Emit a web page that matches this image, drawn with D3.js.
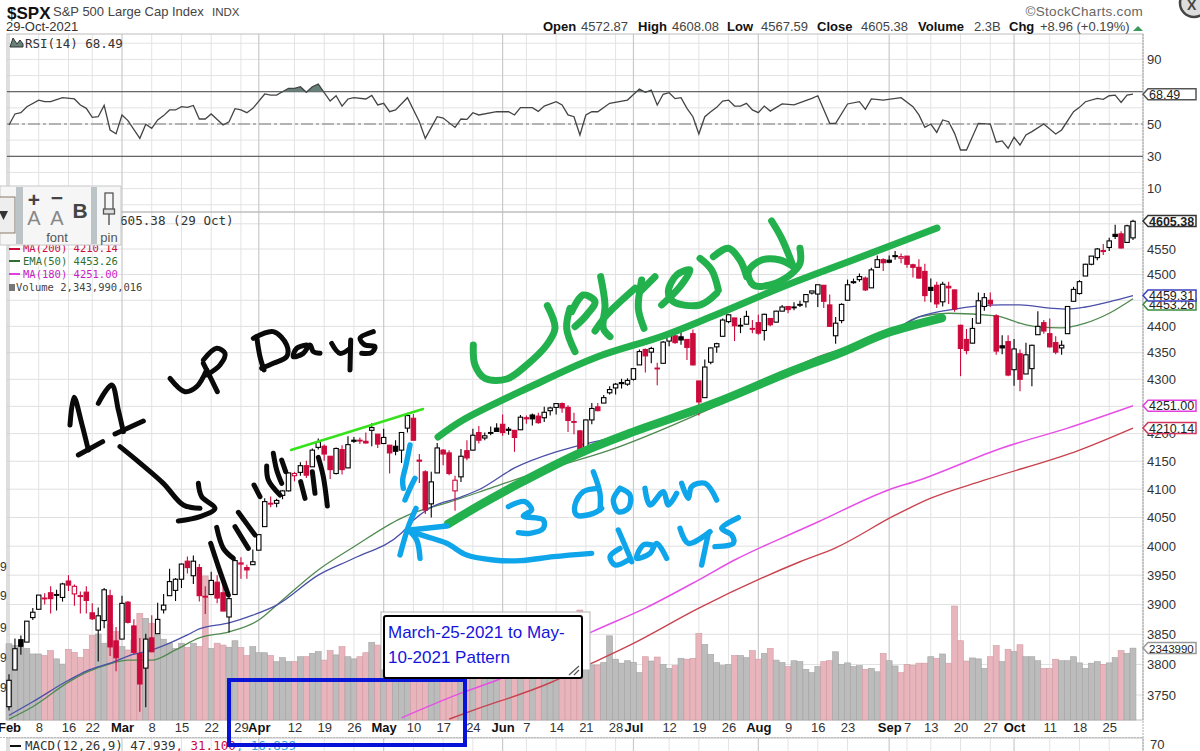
<!DOCTYPE html>
<html>
<head>
<title>$SPX</title>
<script src="https://cdn.jsdelivr.net/npm/d3@7"></script>
<style>
html, body { margin: 0; padding: 0; background: #fff; overflow: hidden; }
svg { display: block; }
text { font-family: "Liberation Sans", Arial, sans-serif; }
.mono { font-family: "DejaVu Sans Mono", monospace; }
</style>
</head>
<body>
<svg id="chart" width="1200" height="751"></svg>
<script>
// daily candles, 1 Feb to 29 Oct 2021, one row per month
var opens = [
  3731,3791,3841,3837,3878,3892,3910,3920,3917,3912,3940,3918,3915,3921,3886,3857,3873,3915,3839,
  3842,3904,3864,3818,3794,3844,3851,3891,3915,3924,3943,3974,3949,3963,3914,3917,3938,3920,3879,3917,3969,3963,3968,
  3993,4034,4075,4075,4089,4097,4124,4130,4142,4140,4175,4177,4159,4128,4171,4138,4186,4188,4186,4206,4199,
  4182,4179,4177,4170,4210,4228,4150,4131,4074,4129,4170,4165,4097,4122,4169,4170,4202,4192,4202,4210,
  4217,4206,4206,4207,4229,4234,4232,4229,4242,4248,4255,4248,4221,4205,4173,4225,4249,4256,4275,4284,4294,4291,
  4300,4327,4356,4351,4321,4330,4372,4382,4380,4375,4386,4297,4266,4332,4361,4381,4409,4416,4402,4404,4396,
  4407,4392,4415,4408,4429,4438,4436,4442,4447,4464,4462,4479,4441,4382,4411,4450,4484,4490,4493,4474,4514,4529,
  4528,4535,4532,4536,4519,4514,4506,4475,4479,4447,4477,4470,4402,4375,4368,4406,4438,4450,4420,4363,4371,
  4318,4348,4310,4320,4384,4407,4386,4369,4359,4386,4448,4463,4497,4520,4533,4547,4553,4579,4580,4563,4572
];
var highs = [
  3784,3843,3848,3872,3894,3915,3919,3931,3925,3937,3950,3934,3922,3931,3902,3895,3928,3925,3862,
  3915,3906,3875,3844,3851,3882,3903,3918,3961,3945,3970,3982,3984,3969,3931,3956,3950,3942,3919,3978,3981,3968,3994,
  4020,4084,4087,4083,4098,4130,4131,4148,4151,4173,4191,4180,4159,4175,4179,4195,4194,4193,4202,4219,4199,
  4209,4179,4188,4202,4238,4236,4163,4134,4131,4183,4172,4170,4124,4172,4188,4209,4214,4202,4213,4219,
  4235,4212,4206,4234,4233,4237,4238,4249,4249,4255,4257,4252,4238,4206,4226,4256,4256,4271,4287,4293,4301,4302,
  4321,4356,4358,4361,4331,4372,4387,4393,4394,4375,4394,4297,4337,4360,4369,4415,4423,4416,4416,4430,4412,
  4422,4424,4416,4430,4441,4438,4446,4449,4461,4468,4480,4479,4461,4418,4444,4490,4492,4502,4496,4513,4537,4532,
  4537,4546,4541,4536,4521,4530,4521,4492,4486,4486,4486,4471,4403,4395,4416,4465,4464,4465,4423,4383,4383,
  4376,4356,4369,4365,4429,4412,4415,4381,4373,4439,4476,4489,4521,4536,4552,4560,4572,4598,4585,4598,4608
];
var lows = [
  3725,3791,3816,3837,3874,3892,3900,3885,3890,3905,3923,3898,3885,3885,3874,3805,3860,3814,3789,
  3842,3868,3817,3723,3730,3820,3851,3885,3915,3906,3928,3953,3935,3905,3884,3917,3902,3889,3853,3917,3944,3944,3968,
  3993,4034,4068,4068,4082,4096,4114,4124,4120,4140,4171,4151,4118,4126,4126,4138,4183,4181,4182,4177,4174,
  4182,4128,4161,4147,4202,4188,4111,4056,4050,4129,4143,4125,4062,4113,4152,4170,4182,4188,4197,4203,
  4196,4198,4167,4207,4218,4215,4218,4221,4233,4235,4238,4203,4199,4165,4173,4217,4241,4256,4272,4272,4283,4288,
  4298,4327,4313,4330,4289,4330,4362,4367,4365,4336,4326,4233,4266,4328,4350,4381,4406,4372,4387,4404,4387,
  4384,4373,4400,4408,4430,4425,4431,4437,4436,4461,4437,4435,4399,4367,4406,4450,4482,4486,4468,4474,4514,4507,
  4522,4529,4522,4513,4494,4492,4447,4446,4435,4438,4443,4428,4306,4347,4368,4406,4430,4437,4346,4347,4306,
  4288,4278,4310,4287,4384,4386,4360,4347,4346,4386,4448,4461,4497,4518,4528,4538,4546,4570,4551,4563,4568
];
var closes = [
  3774,3826,3830,3872,3887,3916,3911,3910,3916,3935,3933,3931,3914,3907,3876,3881,3925,3829,3811,
  3902,3870,3820,3768,3842,3821,3875,3899,3939,3943,3969,3963,3974,3915,3913,3941,3911,3889,3910,3975,3971,3959,3973,
  4020,4078,4074,4080,4097,4129,4128,4142,4125,4170,4185,4163,4135,4173,4135,4180,4188,4187,4183,4211,4181,
  4193,4165,4168,4202,4233,4188,4152,4063,4113,4174,4163,4128,4116,4159,4156,4197,4188,4196,4201,4204,
  4202,4208,4193,4230,4227,4227,4220,4239,4247,4255,4247,4224,4222,4166,4225,4246,4242,4266,4281,4291,4292,4298,
  4320,4352,4344,4358,4321,4370,4385,4369,4374,4360,4327,4258,4323,4359,4367,4412,4422,4401,4401,4419,4395,
  4387,4423,4403,4429,4437,4432,4437,4442,4461,4468,4480,4448,4400,4406,4442,4480,4486,4496,4470,4509,4529,4523,
  4524,4537,4535,4520,4514,4493,4459,4469,4443,4481,4474,4433,4358,4354,4396,4449,4455,4443,4353,4359,4308,
  4357,4300,4346,4364,4400,4391,4361,4351,4364,4438,4471,4486,4520,4536,4550,4545,4566,4575,4552,4596,4605
];
// volume in billions. tops of the bars under the note are guesses
var volumes = [
  2.48,2.42,2.36,2.33,2.15,2.15,2.10,2.26,1.99,1.82,2.30,2.20,2.03,2.30,2.75,2.80,2.50,3.12,2.88,
  2.39,2.28,2.61,3.47,3.31,3.15,2.77,2.63,2.50,2.33,2.50,2.36,2.50,2.39,4.69,2.33,2.50,2.44,2.37,2.58,2.36,2.10,2.39,
  2.19,2.19,2.10,1.90,2.03,1.90,1.90,2.06,2.06,2.17,2.23,1.95,2.26,2.12,2.39,2.06,1.99,2.06,2.19,2.53,2.44,
  2.30,2.45,2.40,2.60,2.50,2.55,2.85,2.90,2.95,2.80,2.50,2.40,2.60,2.35,2.20,2.00,2.10,2.20,2.30,2.25,2.10,2.05,
  2.00,2.00,1.95,1.90,1.85,2.05,2.00,2.10,2.20,2.40,2.50,3.58,1.85,1.79,1.79,1.87,2.74,1.98,1.85,1.93,1.88,1.54,
  2.06,1.92,2.05,1.81,1.68,1.77,2.01,1.98,2.01,2.82,2.46,2.14,1.87,1.77,1.81,2.10,2.10,2.03,2.26,1.98,2.17,2.33,
  1.95,1.87,1.74,1.93,1.90,1.65,1.54,1.74,1.90,1.93,2.22,1.81,1.86,1.74,1.77,1.65,1.68,1.57,2.17,1.93,1.76,1.54,
  1.81,1.78,1.85,1.85,2.06,2.01,2.15,1.85,3.71,2.58,1.92,2.02,1.99,1.68,2.06,2.42,1.90,2.30,2.23,2.45,2.06,2.06,
  1.93,1.68,1.68,1.98,1.93,1.93,2.06,1.86,1.68,1.85,1.90,1.81,1.86,2.03,2.26,2.17,2.34
];

// moving averages, read at a few days along each curve
var ma50Days = [0,4,10,13,17,21,24,30,32,37,41,45,52,58,66,68,71,76,79,85,92,96,102,120,131,140,148,153,159,167,170,175,178,181,185,189];
var ma50Vals = [3717,3739,3774,3789,3802,3817,3824,3849,3859,3869,3882,3899,3950,3979,4023,4045,4068,4086,4099,4138,4167,4179,4194,4256,4312,4351,4387,4418,4433,4441,4441,4435,4433,4437,4447,4459];
var ema50Days = [0,4,10,13,17,20,24,28,32,37,42,45,52,58,66,68,74,81,89,101,120,136,148,153,158,166,170,173,177,181,185,189];
var ema50Vals = [3711,3731,3771,3787,3801,3807,3807,3824,3844,3854,3874,3899,3959,3999,4049,4058,4077,4102,4131,4170,4256,4342,4387,4418,4425,4420,4406,4399,4397,4406,4425,4453];
var ma180Days = [66,76,82,98,107,116,122,133,136,148,153,167,178,189];
var ma180Vals = [3713,3753,3774,3854,3894,3942,3976,4028,4042,4099,4116,4174,4210,4251];
var ma200Days = [74,78,91,98,105,116,133,139,149,155,164,180,189];
var ma200Vals = [3711,3725,3770,3802,3835,3894,3973,3997,4054,4084,4116,4170,4210];

var rsiDays = [0,1,2,3,5,6,7,9,11,12,13,14,15,16,17,18,19,20,22,23,24,25,26,27,28,29,30,31,32,33,34,36,37,38,39,40,41,43,44,45,47,48,49,50,51,52,54,55,56,57,58,60,61,62,63,64,65,67,69,70,72,73,75,76,77,78,79,82,84,85,86,88,89,90,92,93,94,95,96,97,98,99,101,104,106,107,108,109,110,111,112,113,114,115,116,117,118,119,120,121,122,123,124,125,126,127,128,130,132,135,136,138,139,141,143,144,145,147,150,152,153,154,155,156,157,158,159,160,161,163,165,166,167,168,169,170,171,172,174,176,177,179,180,181,183,184,185,186,187,188,189];
var rsiVals = [49.4,56.2,57,60.7,64.8,63.8,63.8,66.3,65.5,61.8,59.7,54.1,54.5,61.5,46.3,43.9,55.6,52.1,41.1,49.8,47.3,52.5,55.2,58.7,58.7,60.7,60.3,61.5,53.1,53.1,56.2,49.4,51.4,59.5,58.7,57,59.7,68.6,67.9,67.9,72.1,72.1,73.1,69.6,73.1,74.7,64.2,67.5,61.1,65.5,66.3,65.5,67.7,61.8,62.8,57.6,58.7,66.3,51.4,41.1,54.5,53.7,47.9,53.1,52.9,57,55.6,57.6,57.6,55.6,60.1,60.1,57.8,61.1,63.8,61.8,55.6,54.5,43.2,55.6,57.6,57.6,62.8,64.8,71.6,69.6,71,61.8,68.4,69.4,65.7,66.3,59.7,54.5,43.8,54.5,57.6,60.3,64.2,64.8,61.1,61.1,62.8,58.7,57,61.1,58,62.4,61.8,65.9,67.5,50.4,50.4,62.4,63.8,59.1,65.5,64.8,66.3,60.7,55.6,47.9,50,44.8,52.5,51.4,44.2,33.9,33.9,50.4,50,38.7,39.5,35,41.8,37,43.2,45.3,50,43.8,46.3,57.6,60.3,63.8,65.9,65.3,67.5,67.9,63.4,67.9,68.49];

var tickDays = [0,5,10,14,19,24,29,34,39,42,48,53,58,63,68,73,78,83,87,92,97,102,105,111,116,121,126,131,136,141,148,151,155,160,165,169,175,180,185];
var tickLabels = ['Feb','8','16','22','Mar','8','15','22','29','Apr','12','19','26','May','10','17','24','Jun','7','14','21','28','Jul','12','19','26','Aug','9','16','23','Sep','7','13','20','27','Oct','11','18','25'];
var months = ['Feb','Mar','Apr','May','Jun','Jul','Aug','Sep','Oct'];
var priceGrid = d3.range(3750, 4601, 50);
// 4600, 4450 and 4250 sit behind the value tags
var priceTicks = priceGrid.filter(function(p){ return [4600,4450,4250].indexOf(p) < 0; });
var rsiTicks = [90,50,30,10];

var RED = '#cc0a3c', PANEL_LEFT = 7, PANEL_RIGHT = 1143;

var svg = d3.select('#chart');
var x = d3.scaleLinear().domain([0,189]).range([9,1133]);
var y = d3.scaleLog().domain([3750,4550]).range([695,249]);
var yVol = d3.scaleLinear().domain([0,2.344]).range([720,648]);
var yRsi = d3.scaleLinear().domain([50,70]).range([124,91.7]);

svg.append('defs').append('clipPath').attr('id','priceClip').append('rect')
  .attr('x',PANEL_LEFT).attr('y',212).attr('width',PANEL_RIGHT-PANEL_LEFT).attr('height',508);
svg.select('defs').append('clipPath').attr('id','overClip').append('rect')
  .attr('x',PANEL_LEFT).attr('y',34).attr('width',PANEL_RIGHT-PANEL_LEFT).attr('height',yRsi(70)-34);

// grid
var grid = svg.append('g').attr('fill','none');
var gridH = function(vals, scale, color) {
  grid.selectAll(null).data(vals).enter().append('line')
    .attr('x1',PANEL_LEFT).attr('x2',PANEL_RIGHT)
    .attr('y1',function(d){ return scale(d); }).attr('y2',function(d){ return scale(d); })
    .attr('stroke',color);
};
gridH(d3.range(0,101,10), yRsi, '#e3e3e3');
gridH(priceGrid, y, '#e0e0e0');
var gridV = function(y1, y2) {
  grid.selectAll(null).data(tickDays).enter().append('line')
    .attr('x1',function(d){ return x(d); }).attr('x2',function(d){ return x(d); })
    .attr('y1',y1).attr('y2',y2)
    .attr('stroke',function(d,i){ return months.indexOf(tickLabels[i]) >= 0 ? '#cacaca' : '#e3e3e3'; })
    .attr('stroke-width',function(d,i){ return months.indexOf(tickLabels[i]) >= 0 ? 1.2 : 1; });
};
gridV(34,720);
gridV(738,751);

// panel frames
[[34,212],[212,720],[738,760]].forEach(function(p){
  svg.append('rect').attr('x',PANEL_LEFT).attr('y',p[0]).attr('width',PANEL_RIGHT-PANEL_LEFT).attr('height',p[1]-p[0])
    .attr('fill','none').attr('stroke','#bdbdbd');
});
svg.append('line').attr('x1',0).attr('x2',PANEL_RIGHT).attr('y1',737.5).attr('y2',737.5)
  .attr('stroke','#bbb').attr('stroke-dasharray','2,1');

// RSI
svg.append('g').selectAll('line').data([70,30]).enter().append('line')
  .attr('x1',PANEL_LEFT).attr('x2',PANEL_RIGHT)
  .attr('y1',function(d){ return yRsi(d); }).attr('y2',function(d){ return yRsi(d); })
  .attr('stroke','#666').attr('stroke-width',1.2);
svg.append('line').attr('x1',PANEL_LEFT).attr('x2',PANEL_RIGHT).attr('y1',yRsi(50)).attr('y2',yRsi(50))
  .attr('stroke','#777').attr('stroke-width',1.1).attr('stroke-dasharray','12,3,3,3');
svg.append('path').datum(rsiDays).attr('clip-path','url(#overClip)')
  .attr('d',d3.area().x(function(d){ return x(d); }).y0(yRsi(70)).y1(function(d,i){ return yRsi(rsiVals[i]); }))
  .attr('fill','#66807a');
svg.append('path').datum(rsiDays)
  .attr('d',d3.line().x(function(d){ return x(d); }).y(function(d,i){ return yRsi(rsiVals[i]); }))
  .attr('fill','none').attr('stroke','#444').attr('stroke-width',1.3);

// volume
svg.append('g').selectAll('rect').data(volumes).enter().append('rect')
  .attr('x',function(d,i){ return x(i)-3; })
  .attr('width',5.95)
  .attr('y',function(d){ return yVol(d); })
  .attr('height',function(d){ return 720-yVol(d); })
  .attr('fill',function(d,i){ return i>0 && closes[i]<closes[i-1] ? '#e9b5bd' : '#bcbcbc'; })
  .attr('stroke',function(d,i){ return i>0 && closes[i]<closes[i-1] ? '#cf9aa3' : '#a3a3a3'; })
  .attr('stroke-width',0.6);

// moving averages
var drawAvg = function(days, vals, color, w) {
  svg.append('path').datum(days).attr('clip-path','url(#priceClip)')
    .attr('d',d3.line().curve(d3.curveMonotoneX).x(function(d){ return x(d); }).y(function(d,i){ return y(vals[i]); }))
    .attr('fill','none').attr('stroke',color).attr('stroke-width',w);
};
drawAvg(ma200Days, ma200Vals, '#c8434f', 1.4);
drawAvg(ma180Days, ma180Vals, '#e64fe6', 1.5);
drawAvg(ema50Days, ema50Vals, '#4f8a4f', 1.3);
drawAvg(ma50Days, ma50Vals, '#4a4fa8', 1.3);

// candles
var candles = svg.append('g').selectAll('g').data(closes).enter().append('g')
  .attr('stroke',function(d,i){ return i>0 && closes[i]<closes[i-1] ? RED : '#000'; });
candles.append('line')
  .attr('x1',function(d,i){ return x(i); }).attr('x2',function(d,i){ return x(i); })
  .attr('y1',function(d,i){ return y(highs[i]); }).attr('y2',function(d,i){ return y(lows[i]); })
  .attr('stroke-width',1.1);
candles.append('rect')
  .attr('x',function(d,i){ return x(i)-2.2; }).attr('width',4.4)
  .attr('y',function(d,i){ return y(Math.max(opens[i],closes[i])); })
  .attr('height',function(d,i){ return Math.max(Math.abs(y(opens[i])-y(closes[i])),0.8); })
  .attr('fill',function(d,i){
    if (closes[i] > opens[i]) return '#fff';
    return i>0 && closes[i]<closes[i-1] ? RED : '#000';
  })
  .attr('stroke-width',1.1);

// axes
var axisR = d3.axisRight(y).tickValues(priceTicks).tickFormat(d3.format('d')).tickSize(0).tickPadding(4);
svg.append('g').attr('transform','translate('+PANEL_RIGHT+',0)').call(axisR)
  .call(function(g){ g.select('.domain').remove(); })
  .selectAll('text').attr('font-size',13).attr('fill','#333').style('font-family','"Liberation Sans"');
var axisRsi = d3.axisRight(yRsi).tickValues(rsiTicks).tickSize(0).tickPadding(4);
svg.append('g').attr('transform','translate('+PANEL_RIGHT+',0)').call(axisRsi)
  .call(function(g){ g.select('.domain').remove(); })
  .selectAll('text').attr('font-size',13).attr('fill','#333').style('font-family','"Liberation Sans"');
svg.append('text').attr('x',1150).attr('y',749).attr('font-size',13).attr('fill','#333').text('70');

var axisX = d3.axisBottom(x).tickValues(tickDays).tickFormat(function(d,i){ return tickLabels[i]; }).tickSize(0).tickPadding(3);
svg.append('g').attr('transform','translate(0,720)').call(axisX)
  .call(function(g){ g.select('.domain').remove(); })
  .selectAll('text')
  .attr('font-size',13).attr('fill',function(d,i){ return months.indexOf(tickLabels[i])>=0 ? '#111' : '#333'; })
  .attr('font-weight',function(d,i){ return months.indexOf(tickLabels[i])>=0 ? 'bold' : 'normal'; })
  .style('font-family','"Liberation Sans"');
svg.append('line').attr('x1',PANEL_RIGHT).attr('x2',PANEL_RIGHT).attr('y1',34).attr('y2',751)
  .attr('stroke','#aaa').attr('stroke-dasharray','2,1');

// value tags on the right
var tag = function(yc, txt, color, bold, size) {
  var h = 5.5, l = PANEL_RIGHT, r = l + 53;
  svg.append('path').attr('d','M'+l+','+yc+'L'+(l+5)+','+(yc-h)+'L'+r+','+(yc-h)+'L'+r+','+(yc+h)+'L'+(l+5)+','+(yc+h)+'Z')
    .attr('fill','#fff').attr('stroke',color).attr('stroke-width',1.5);
  svg.append('text').attr('x',l+6).attr('y',yc+4.5).attr('font-size',size||12.5).attr('fill','#222')
    .attr('font-weight',bold?'bold':'normal').text(txt);
};
tag(yRsi(68.49),'68.49','#555');
tag(y(4605.38),'4605.38','#333',true);
tag(y(4453.26)+6,'4453.26','#3c8a3c');
tag(y(4459.31),'4459.31','#3a3fbf');
tag(y(4251),'4251.00','#e23fe2');
tag(y(4210.14),'4210.14','#d2345a');
tag(yVol(2.344),'2343990','#999',false,11.5);

// header
var txt = function(xp, yp, s, size, weight, color, cls) {
  return svg.append('text').attr('x',xp).attr('y',yp).attr('font-size',size).attr('font-weight',weight||'normal')
    .attr('fill',color||'#222').attr('class',cls||null).text(s);
};
txt(7,19,'$SPX',17,'bold','#111');
txt(53,16,'S&P 500 Large Cap Index',13,'normal','#444');
txt(212,16,'INDX',11.5,'normal','#444');
txt(6,31,'29-Oct-2021',13,'normal','#333');
[[543,'Open',true],[581,'4572.87'],[638,'High',true],[672,'4608.08'],[727,'Low',true],[761,'4567.59'],[817,'Close',true],[861,'4605.38'],[918,'Volume',true],[974,'2.3B'],[1009,'Chg',true],[1040,'+8.96 (+0.19%)']].forEach(function(p){
  txt(p[0],31,p[1],13,p[2]?'bold':'normal',p[2]?'#111':'#444');
});
svg.append('path').attr('d','M1133,31L1143,31L1138,26Z').attr('fill','#3a9a5a');
txt(1143,16,'©StockCharts.com',13.5,'normal','#666').attr('text-anchor','end').attr('letter-spacing',0.3);
svg.append('circle').attr('cx',1194).attr('cy',3).attr('r',14).attr('fill','#ddd').attr('stroke','#444').attr('stroke-width',2.5);
txt(1187,10,'X',14,'bold','#444');

// chart legends
svg.append('path').attr('d','M13,38L17,44L20,40L23,44L23,47L10,47Z').attr('fill','#66807a').attr('stroke','#333');
txt(25,48,'RSI(14) 68.49',12.5,'normal','#333','mono');
txt(112.4,225,'4605.38 (29 Oct)',12.6,'normal','#333','mono');
txt(23,252,'MA(200) 4210.14',10.5,'normal',RED,'mono');
txt(23,265,'EMA(50) 4453.26',10.5,'normal','#2f6f2f','mono');
txt(23,278,'MA(180) 4251.00',10.5,'normal','#c81ec8','mono');
txt(16,291,'Volume 2,343,990,016',10.5,'normal','#444','mono');
svg.selectAll(null).data([[9,249,RED],[9,261,'#2f6f2f'],[9,274,'#e23fe2']]).enter().append('line')
  .attr('x1',function(d){ return d[0]; }).attr('x2',20)
  .attr('y1',function(d){ return d[1]; }).attr('y2',function(d){ return d[1]; })
  .attr('stroke',function(d){ return d[2]; }).attr('stroke-width',2);
svg.append('rect').attr('x',9).attr('y',284).attr('width',6).attr('height',7).attr('fill','#777');

// left edge scraps of a second axis
svg.selectAll(null).data([567,596,628,658,688]).enter().append('text')
  .attr('x',0).attr('y',function(d){ return d+4; }).attr('font-size',12).attr('fill','#333').text('9');

// MACD legend
svg.append('line').attr('x1',10).attr('x2',21).attr('y1',746).attr('y2',746).attr('stroke','#111').attr('stroke-width',2);
var macd = txt(25,750,'',12.5,'normal','#333','mono');
macd.append('tspan').text('MACD(12,26,9) 47.939');
macd.append('tspan').attr('fill',RED).text(', 31.100');
macd.append('tspan').attr('fill','#3aa0e0').text(', 16.839');

// toolbar floating over the chart
var bar = svg.append('g');
bar.append('rect').attr('x',0).attr('y',186).attr('width',121).attr('height',59).attr('fill','#f6f6f6').attr('stroke','#c8c8c8');
bar.append('rect').attr('x',16).attr('y',187).attr('width',7).attr('height',57).attr('fill','#bcc4c8');
bar.append('rect').attr('x',91).attr('y',187).attr('width',6).attr('height',57).attr('fill','#bcc4c8');
bar.append('rect').attr('x',-2).attr('y',197).attr('width',17).attr('height',36).attr('fill','#eee').attr('stroke','#8a7a66');
bar.append('path').attr('d','M-1,211L8,211L3.5,220Z').attr('fill','#333');
var btxt = function(xp, yp, s, size, weight, color) {
  bar.append('text').attr('x',xp).attr('y',yp).attr('font-size',size).attr('font-weight',weight||'normal')
    .attr('fill',color).attr('text-anchor','middle').text(s);
};
btxt(34,207,'+',21,'bold','#444');
btxt(57,205,'−',21,'bold','#444');
btxt(34,225,'A',20,'normal','#888');
btxt(57,225,'A',20,'normal','#888');
btxt(80,218,'B',21,'bold','#444');
btxt(57,242,'font',13,'normal','#555');
btxt(109,242,'pin',13,'normal','#555');
bar.append('rect').attr('x',105).attr('y',193).attr('width',8).attr('height',18).attr('fill','#f6f6f6').attr('stroke','#555').attr('stroke-width',1.3);
bar.append('rect').attr('x',103.5).attr('y',209).attr('width',11).attr('height',5).attr('fill','#ddd').attr('stroke','#555').attr('stroke-width',1.3);
bar.append('line').attr('x1',109).attr('x2',109).attr('y1',214).attr('y2',225).attr('stroke','#555').attr('stroke-width',1.4);

// hand drawn notes, points are pen positions on the 3x crops
var pen = d3.line().curve(d3.curveCatmullRom.alpha(0.5));
var scrawl = function(ox, oy, color, w, strokes) {
  svg.append('g').attr('fill','none').attr('stroke',color).attr('stroke-width',w)
    .attr('stroke-linecap','round').attr('stroke-linejoin','round')
    .selectAll('path').data(strokes).enter().append('path')
    .attr('d',function(s){ return pen(s.map(function(p){ return [ox+p[0]/3, oy+p[1]/3]; })); });
};
var BLACK_PEN = '#0a0a0a', GREEN_PEN = '#22b14c', BLUE_PEN = '#0ea5ea';

scrawl(60,320,BLACK_PEN,5,[
  [[30,315],[42,232],[65,310],[85,390]], [[55,405],[128,365]],
  [[115,250],[155,195],[175,270],[190,335]], [[165,342],[250,303]],
  [[330,175],[375,215],[410,200],[440,150]], [[430,130],[450,170],[472,215]],
  [[430,120],[470,85],[495,100],[480,135],[440,165]],
  [[590,50],[600,110],[612,150]], [[580,55],[640,35],[680,75],[680,110],[640,130],[605,145]],
  [[740,75],[710,85],[700,110],[730,100],[750,75],[760,95],[780,100]],
  [[815,70],[840,100],[870,85]], [[872,60],[870,150]],
  [[940,35],[900,55],[915,75],[945,80],[935,98],[905,100]],
  [[180,380],[235,425],[310,490],[370,555],[420,565]],
  [[415,490],[425,530],[465,565],[420,590],[355,603]],
  [[640,400],[650,450],[665,490]], [[620,438],[625,480],[660,525]], [[582,495],[600,530]],
  [[665,420],[677,455]], [[722,485],[735,535]], [[757,455],[765,520]],
  [[775,412],[790,470],[802,558]]
]);
scrawl(0,480,BLACK_PEN,5,[
  [[632,190],[655,260],[685,345]], [[650,142],[670,205],[700,235]],
  [[705,140],[745,205]], [[715,97],[765,165]]
]);
scrawl(0,0,'#35e21c',2.4,[[[873,1350],[1269,1227]]]);

scrawl(460,205,GREEN_PEN,7,[
  [[40,420],[45,480],[75,520],[140,522],[200,480],[260,420],[285,370],[262,302]],
  [[330,310],[320,370],[345,440]], [[335,320],[370,270],[405,290],[380,330],[345,365]],
  [[422,215],[435,300],[430,370],[450,395]], [[405,378],[440,330],[525,250]],
  [[545,225],[535,310],[552,370]], [[540,260],[585,215]],
  [[605,300],[660,245],[690,195],[650,210],[625,260],[640,290],[720,300],[770,265]],
  [[720,160],[755,195],[775,255]], [[760,155],[805,130],[840,165],[860,215]],
  [[1020,130],[1020,175],[990,210],[930,240],[880,240],[865,200],[905,165],[960,165],[1000,185]],
  [[935,48],[965,100],[1000,185]]
]);
scrawl(0,0,GREEN_PEN,7,[[[1314,1311],[1389,1260],[1590,1161],[1791,1071],[1989,1008],[2139,948],[2361,855],[2559,780],[2811,684]]]);
scrawl(0,0,GREEN_PEN,8.5,[[[1344,1572],[1440,1515],[1560,1449],[1740,1359],[1890,1299],[2160,1203],[2361,1119],[2520,1059],[2661,999],[2826,954]]]);

scrawl(380,430,BLUE_PEN,5.4,[
  [[90,45],[78,105],[68,150],[70,175]], [[105,145],[90,175],[75,210]],
  [[635,370],[520,380],[420,392],[340,390],[260,375],[200,340],[140,320],[90,305]],
  [[108,235],[85,290],[60,375]], [[85,300],[110,330],[120,385]], [[90,300],[200,288]],
  [[385,230],[435,215],[455,240],[430,258],[490,270],[490,295],[450,310],[415,308]],
  [[640,125],[660,190],[660,240]], [[655,175],[610,185],[585,225],[590,255],[640,250],[665,235]],
  [[720,175],[700,210],[715,245],[745,235],[750,195],[720,175]],
  [[795,175],[810,225],[850,185],[865,225],[890,190]],
  [[905,160],[925,205],[935,170],[975,160],[1010,210]],
  [[715,300],[745,370],[755,395]], [[720,355],[690,380],[705,405],[745,390]],
  [[815,345],[790,345],[770,385],[810,370],[830,340],[860,385]],
  [[900,295],[925,340],[990,305]], [[985,310],[965,405]],
  [[1075,263],[1025,295],[1055,315],[1060,340],[1005,350]]
]);

// pattern window and its note
svg.append('rect').attr('x',229).attr('y',680).attr('width',236).attr('height',65)
  .attr('fill','none').attr('stroke','#0714d8').attr('stroke-width',4);
svg.append('rect').attr('x',381).attr('y',612).attr('width',209).attr('height',58).attr('fill','#fff').attr('stroke','#b5b5b5');
svg.append('rect').attr('x',384).attr('y',616).attr('width',198).attr('height',62).attr('rx',2)
  .attr('fill','#fff').attr('stroke','#000').attr('stroke-width',2);
txt(388,638,'March-25-2021 to May-',17,'normal','#1414dc');
txt(388,663,'10-2021 Pattern',17,'normal','#1414dc');
svg.append('path').attr('d','M569,675L579,666M574,675L579,670').attr('stroke','#555').attr('stroke-width',1.2).attr('fill','none');
</script>
</body>
</html>
